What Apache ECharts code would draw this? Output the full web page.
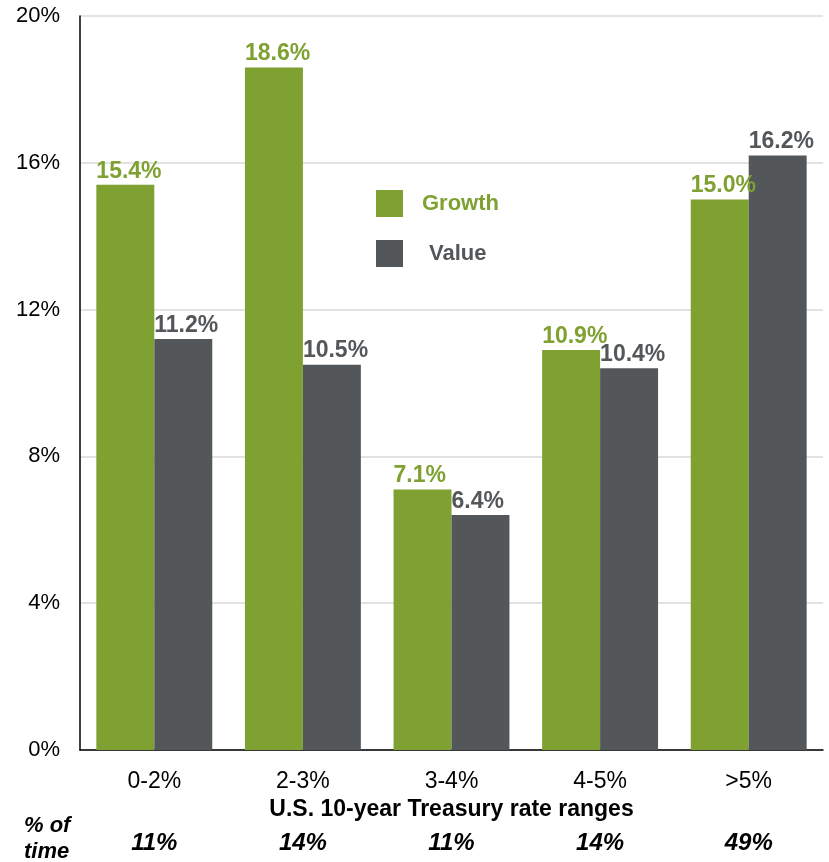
<!DOCTYPE html>
<html>
<head>
<meta charset="utf-8">
<script src="https://cdn.jsdelivr.net/npm/echarts@6/dist/echarts.min.js"></script>
<style>
  html, body { margin: 0; padding: 0; background: #fff; }
  #chart { width: 829px; height: 862px; }
</style>
</head>
<body>
<div id="chart"></div>
<script>
const categories = ['0-2%', '2-3%', '3-4%', '4-5%', '>5%']
const growth = [15.4, 18.6, 7.1, 10.9, 15.0]
const value = [11.2, 10.5, 6.4, 10.4, 16.2]
const timeShare = ['11%', '14%', '11%', '14%', '49%']

const GREEN = '#7ea131'
const GRAY = '#54575a'
const FONT = 'Liberation Sans, Arial, sans-serif'

const chart = echarts.init(document.getElementById('chart'))

// labels sit above each bar, starting at the bar's left edge
const barLabel = color => ({
  show: true,
  position: [0, -2],
  align: 'left',
  verticalAlign: 'bottom',
  formatter: p => p.value.toFixed(1) + '%',
  color,
  fontFamily: FONT,
  fontWeight: 'bold',
  fontSize: 23,
})

chart.setOption({
  animation: false,
  textStyle: { fontFamily: FONT },
  grid: { left: 80, right: 6, top: 16, bottom: 112 },
  legend: {
    orient: 'vertical',
    left: 371,
    top: 185,
    itemWidth: 27,
    itemHeight: 27,
    itemGap: 23,
    icon: 'rect',
    data: [
      { name: 'Growth', textStyle: { color: GREEN, padding: [0, 0, 0, 14] } },
      { name: 'Value', textStyle: { color: GRAY, padding: [0, 0, 0, 21] } },
    ],
    textStyle: { fontFamily: FONT, fontWeight: 'bold', fontSize: 22 },
  },
  graphic: [{
    type: 'text',
    left: 24,
    top: 813,
    style: {
      text: '% of\ntime',
      font: 'italic bold 22px ' + FONT,
      lineHeight: 26,
      fill: '#000',
    },
  }],
  xAxis: [{
    type: 'category',
    data: categories,
    name: 'U.S. 10-year Treasury rate ranges',
    nameLocation: 'middle',
    nameGap: 46,
    nameTextStyle: { fontFamily: FONT, fontWeight: 'bold', fontSize: 23, color: '#000' },
    axisLine: { lineStyle: { color: '#000', width: 1.5 } },
    axisTick: { length: 6, lineStyle: { color: '#000', width: 1.5 } },
    axisLabel: { margin: 20, fontSize: 23, color: '#000', fontFamily: FONT },
  }, {
    type: 'category',
    data: timeShare,
    position: 'bottom',
    axisLine: { show: false },
    axisTick: { show: false },
    axisLabel: {
      margin: 81, fontSize: 24, color: '#000', fontFamily: FONT,
      fontWeight: 'bold', fontStyle: 'italic',
    },
  }],
  yAxis: {
    type: 'value',
    min: 0,
    max: 20,
    interval: 4,
    axisLine: { show: true, lineStyle: { color: '#000', width: 1.5 } },
    axisTick: { show: false },
    axisLabel: { formatter: '{value}%', margin: 20, fontSize: 22, color: '#000', fontFamily: FONT },
    splitLine: { lineStyle: { color: '#d9d9d9', width: 1.5 } },
  },
  series: [{
    name: 'Growth',
    type: 'bar',
    data: growth,
    barGap: '0%',
    barCategoryGap: '22%',
    itemStyle: { color: GREEN },
    label: barLabel(GREEN),
  }, {
    name: 'Value',
    type: 'bar',
    data: value,
    itemStyle: { color: GRAY },
    label: barLabel(GRAY),
  }],
})
</script>
</body>
</html>
